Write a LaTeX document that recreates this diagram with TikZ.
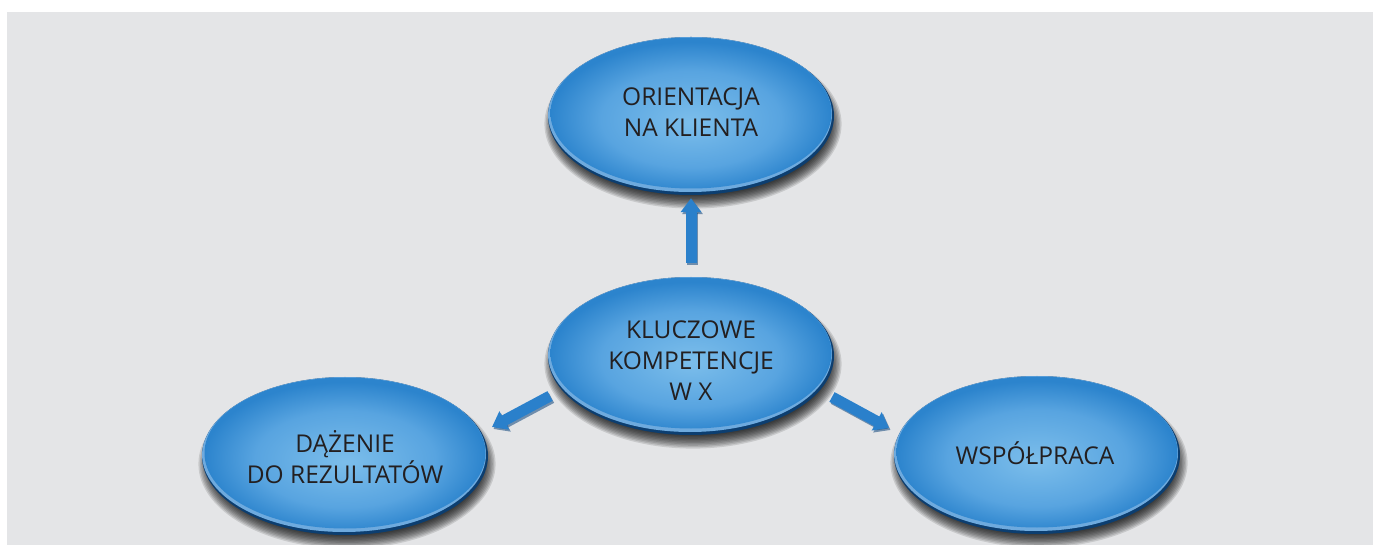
\documentclass[tikz,border=0pt]{standalone}
\usepackage{fontspec}
\setmainfont{Open Sans}
\usetikzlibrary{shapes.geometric,arrows.meta,calc,backgrounds}

\definecolor{bggray}{RGB}{228,229,231}
\definecolor{txt}{RGB}{35,31,32}
\definecolor{rimdark}{RGB}{12,62,112}
\definecolor{rimlight}{RGB}{110,170,222}
\definecolor{orbA}{RGB}{124,190,235}
\definecolor{orbB}{RGB}{88,164,224}
\definecolor{orbC}{RGB}{44,132,205}
\definecolor{arrowblue}{RGB}{42,128,203}
\definecolor{arrowdark}{RGB}{16,70,124}

% glossy blue fill for the bubbles, lightest slightly below centre
\pgfdeclareradialshading{orb}{\pgfpoint{0bp}{-3bp}}{%
  color(0bp)=(orbA); color(16bp)=(orbB); color(25bp)=(orbC); color(50bp)=(orbC)}

\tikzset{
  orb/.style={
    ellipse, minimum width=286pt, minimum height=158pt, inner sep=0pt,
    fill=rimdark,
    path picture={
      \fill[rimlight] ([xshift=-1pt,yshift=2pt]path picture bounding box.center)
        ellipse [x radius=142pt, y radius=78pt];
      \shade[shading=orb] ([yshift=3pt]path picture bounding box.center)
        ellipse [x radius=140.5pt, y radius=75.5pt];
    }},
  lbl/.style={
    text=txt, align=center, inner sep=0pt,
    font={\fontsize{24.5pt}{31pt}\selectfont}},
  blockarrow/.style={
    line width=11pt, draw=arrowblue,
    -{Triangle[width=20pt,length=14pt]}},
  arrowshade/.style={
    line width=11pt, draw=arrowdark, opacity=0.55,
    transform canvas={shift={(1.5pt,-2pt)}},
    -{Triangle[width=20pt,length=14pt]}}
}

\begin{document}
\begin{tikzpicture}[x=1pt,y=-1pt]
  \useasboundingbox (0,0) rectangle (1377,545);

  \node[orb] (top)   at (691,116)  {};
  \node[orb] (mid)   at (691,356)  {};
  \node[orb] (left)  at (345,456)  {};
  \node[orb] (right) at (1037,455) {};

  \begin{scope}[on background layer]
    \fill[white] (0,0) rectangle (1377,545);
    \fill[bggray] (7,12) rectangle (1373,545);
    % soft drop shadows under the bubbles
    \foreach \n in {top,mid,left,right}
      \foreach \k in {0,...,9}
        \fill[black, opacity=0.12]
          ([xshift=2pt,yshift=-8pt]\n.center)
          ellipse [x radius={(136+\k*1.4)*1pt}, y radius={(72+\k*1.4)*1pt}];
  \end{scope}

  \node[lbl] (topt)   at ($(top)+(0,-3.5)$)   {ORIENTACJA\\NA KLIENTA};
  \node[lbl] (midt)   at ($(mid)+(0,5)$)      {KLUCZOWE\\KOMPETENCJE\\W X};
  \node[lbl] (leftt)  at ($(left)+(0,1)$)     {DĄŻENIE\\DO REZULTATÓW};
  \node[lbl] (rightt) at ($(right)+(-2,-2)$)  {WSPÓŁPRACA};

  % arrows from the central bubble to the three competences
  \draw[arrowshade] ([yshift=14pt]mid.north) -- ([yshift=-3pt]top.south);
  \draw[blockarrow] ([yshift=14pt]mid.north) -- ([yshift=-3pt]top.south);

  \draw[arrowshade] ($(mid.center)+(-141,40)$) -- ($(left.center)+(147,-29)$);
  \draw[blockarrow] ($(mid.center)+(-141,40)$) -- ($(left.center)+(147,-29)$);

  \draw[arrowshade] ($(mid.center)+(141,41)$) -- ($(right.center)+(-148,-27)$);
  \draw[blockarrow] ($(mid.center)+(141,41)$) -- ($(right.center)+(-148,-27)$);
\end{tikzpicture}
\end{document}
